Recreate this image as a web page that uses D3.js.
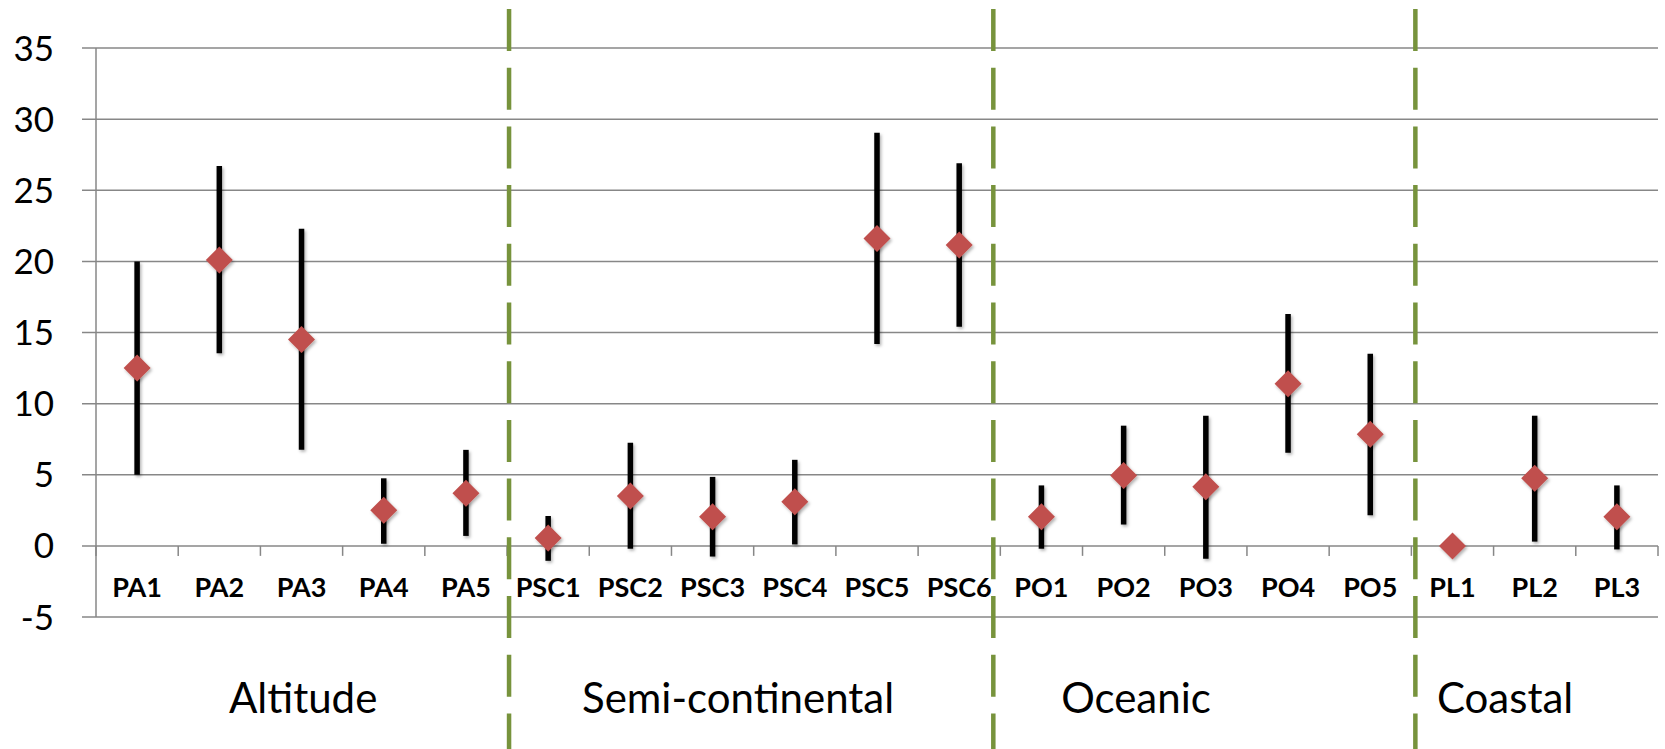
<!DOCTYPE html>
<html>
<head>
<meta charset="utf-8">
<script src="https://cdn.jsdelivr.net/npm/d3@7"></script>
<style>
  body { margin: 0; background: #fff; }
  text { font-family: Lato, "Open Sans", sans-serif; fill: #000; }
</style>
</head>
<body>
<div id="chart"></div>
<script>
// categories and groups
const categories = ['PA1','PA2','PA3','PA4','PA5','PSC1','PSC2','PSC3','PSC4','PSC5','PSC6','PO1','PO2','PO3','PO4','PO5','PL1','PL2','PL3'];
const groupNames = ['Altitude','Semi-continental','Oceanic','Coastal'];
const groupSizes = [5, 6, 5, 3];

// series values (mean, lower, upper)
const means = [12.5, 20.1, 14.5, 2.5, 3.7, 0.55, 3.5, 2.05, 3.1, 21.6, 21.15, 2.05, 4.95, 4.15, 11.4, 7.85, 0, 4.75, 2.05];
const lows  = [5.0, 13.55, 6.75, 0.15, 0.7, -1.05, -0.2, -0.75, 0.1, 14.2, 15.4, -0.2, 1.5, -0.9, 6.55, 2.15, null, 0.3, -0.25];
const highs = [20.0, 26.7, 22.3, 4.75, 6.75, 2.1, 7.25, 4.85, 6.05, 29.05, 26.9, 4.25, 8.45, 9.15, 16.3, 13.5, null, 9.15, 4.25];

const yTicks = [-5, 0, 5, 10, 15, 20, 25, 30, 35];

const W = 1665, H = 749;
const margin = { left: 96, right: 1658, top: 48, bottom: 617 };

const svg = d3.select('#chart').append('svg')
  .attr('width', W).attr('height', H);

const defs = svg.append('defs');
const f = defs.append('filter').attr('id', 'shadow')
  .attr('x', '-50%').attr('y', '-50%').attr('width', '200%').attr('height', '200%');
f.append('feDropShadow').attr('dx', 1.5).attr('dy', 2).attr('stdDeviation', 1.5)
  .attr('flood-color', '#000').attr('flood-opacity', 0.3);

const x = d3.scaleBand().domain(categories).range([margin.left, margin.right]).padding(0);
const y = d3.scaleLinear().domain([-5, 35]).range([margin.bottom, margin.top]);

// gridlines
svg.append('g')
  .selectAll('line').data(yTicks).enter().append('line')
  .attr('x1', margin.left - 14).attr('x2', margin.right)
  .attr('y1', d => y(d)).attr('y2', d => y(d))
  .attr('stroke', '#878787').attr('stroke-width', 1.5);

// y axis line
svg.append('line')
  .attr('x1', margin.left).attr('x2', margin.left)
  .attr('y1', y(35)).attr('y2', y(-5))
  .attr('stroke', '#878787').attr('stroke-width', 1.5);

// y tick labels
svg.append('g')
  .selectAll('text').data(yTicks).enter().append('text')
  .attr('x', 54).attr('y', d => y(d))
  .attr('dy', '0.36em')
  .attr('text-anchor', 'end')
  .style('font-size', '35px')
  .text(d => d);

// x ticks at band boundaries on the zero line
const bounds = d3.range(categories.length + 1);
svg.append('g')
  .selectAll('line').data(bounds).enter().append('line')
  .attr('x1', i => margin.left + i * x.bandwidth()).attr('x2', i => margin.left + i * x.bandwidth())
  .attr('y1', y(0)).attr('y2', y(0) + 10)
  .attr('stroke', '#878787').attr('stroke-width', 1.5);

// category labels
svg.append('g')
  .selectAll('text').data(categories).enter().append('text')
  .attr('x', d => x(d) + x.bandwidth() / 2)
  .attr('y', 597)
  .attr('text-anchor', 'middle')
  .style('font-size', '27px')
  .style('font-weight', 'bold')
  .text(d => d);

// group dividers (hand placed in the original, roughly at group boundaries)
const cum = d3.cumsum(groupSizes).slice(0, -1);
const nudge = [2, -7, 4];
svg.append('g')
  .selectAll('line').data(cum).enter().append('line')
  .attr('x1', (d, i) => margin.left + d * x.bandwidth() + nudge[i])
  .attr('x2', (d, i) => margin.left + d * x.bandwidth() + nudge[i])
  .attr('y1', 9).attr('y2', H)
  .attr('stroke', '#77933C').attr('stroke-width', 4.5)
  .attr('stroke-dasharray', '42 16.7');

// group labels
const labelPos = [2.52, 7.81, 12.65, 17.14];
svg.append('g')
  .selectAll('text').data(groupNames).enter().append('text')
  .attr('x', (d, i) => margin.left + labelPos[i] * x.bandwidth())
  .attr('y', 713)
  .attr('text-anchor', 'middle')
  .style('font-size', '42px')
  .text(d => d);

// error bars
const rows = categories.map((c, i) => ({ c, m: means[i], lo: lows[i], hi: highs[i] }));
svg.append('g').attr('filter', 'url(#shadow)')
  .selectAll('line').data(rows.filter(d => d.lo != null)).enter().append('line')
  .attr('x1', d => x(d.c) + x.bandwidth() / 2)
  .attr('x2', d => x(d.c) + x.bandwidth() / 2)
  .attr('y1', d => y(d.lo)).attr('y2', d => y(d.hi))
  .attr('stroke', '#000').attr('stroke-width', 5.5);

// diamond markers
const r = 13.5;
svg.append('g').attr('filter', 'url(#shadow)')
  .selectAll('path').data(rows).enter().append('path')
  .attr('transform', d => `translate(${x(d.c) + x.bandwidth() / 2},${y(d.m)})`)
  .attr('d', `M0,${-r}L${r},0L0,${r}L${-r},0Z`)
  .attr('fill', '#C0504D');
</script>
</body>
</html>
